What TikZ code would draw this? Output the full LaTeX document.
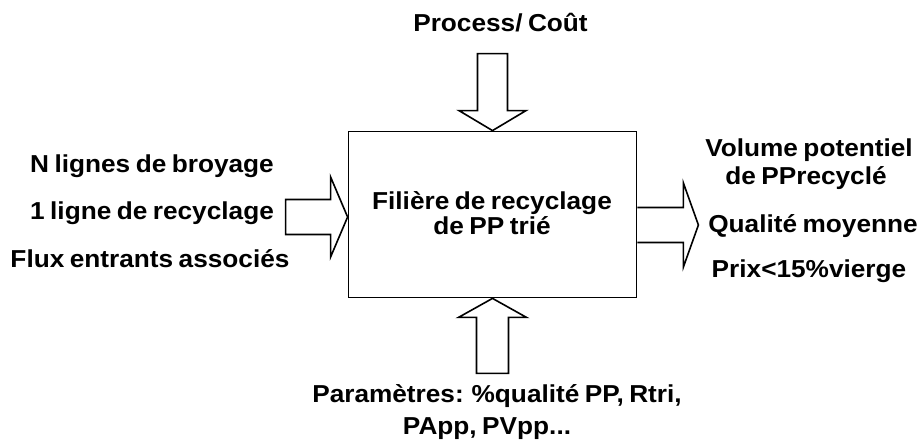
\documentclass[tikz,border=0pt]{standalone}
\usepackage{fontspec}
\setmainfont{Liberation Sans}[FakeStretch=1.07, WordSpace=0.75]
\usepackage{tikz}
\usetikzlibrary{calc}

\begin{document}
\begin{tikzpicture}[
            x=1pt, y=1pt,
            blockarrow/.style={draw=black, line width=1.6pt, fill=white, line join=miter},
            label/.style={align=center, anchor=base, font=\bfseries\fontsize{24.5}{26}\selectfont, inner sep=0pt},
            mainbox/.style={draw=black, line width=1.8pt, minimum width=288pt, minimum height=166pt, inner sep=0pt}
        ]
            % frame
            \useasboundingbox (0, 0) rectangle (923, 439);

            % the process box
            \node[mainbox] (filiere) at (492.5, 224.5) {};
            \node[label] (filtop) at (492, 229) {Filière de recyclage};
            \node[label] (filbot) at (492, 204) {de PP trié};

            % block arrows
            \draw[blockarrow] (filiere.north) -- ++(-33.5, 20) -- ++(18.5, 0) -- ++(0, 57)
                -- ++(30, 0) -- ++(0, -57) -- ++(18.5, 0) -- cycle;
            \draw[blockarrow] (filiere.south) -- ++(-34, -19) -- ++(18, 0) -- ++(0, -56)
                -- ++(32, 0) -- ++(0, 56) -- ++(18, 0) -- cycle;
            \draw[blockarrow] ($(filiere.west)+(0, -2.5)$) -- ++(-17, 40) -- ++(0, -22.5) -- ++(-45, 0)
                -- ++(0, -35) -- ++(45, 0) -- ++(0, -22.5) -- cycle;
            \draw[blockarrow] ($(filiere.east)+(0, 7)$) -- ++(46, 0) -- ++(0, 24.5) -- ++(15, -42)
                -- ++(-15, -42) -- ++(0, 24.5) -- ++(-46, 0);

            % top
            \node[label] (cost) at (500.5, 407) {Process/ Coût};

            % inputs (left)
            \node[label] (broyage) at (152, 266) {N lignes de broyage};
            \node[label] (recyclage) at (152, 219) {1 ligne de recyclage};
            \node[label] (flux) at (150, 171) {Flux entrants associés};

            % outputs (right)
            \node[label] (volume) at (809, 282) {Volume potentiel};
            \node[label] (volumepp) at (806, 254) {de PPrecyclé};
            \node[label] (qualite) at (813, 206) {Qualité moyenne};
            \node[label] (prix) at (809, 161) {Prix<15\%vierge};

            % parameters (bottom)
            \node[label] (param) at (497, 37) {Paramètres: \%qualité PP, Rtri,};
            \node[label] (paramb) at (487, 5) {PApp, PVpp...};

        \end{tikzpicture}
\end{document}
